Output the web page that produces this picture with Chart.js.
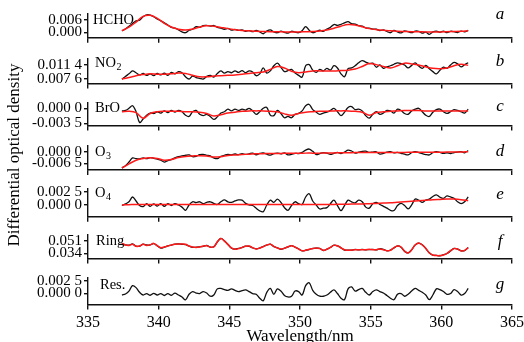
<!DOCTYPE html>
<html>
<head>
<meta charset="utf-8">
<script src="https://cdn.jsdelivr.net/npm/chart.js@4.4.1/dist/chart.umd.min.js"></script>
<style>
  html, body { margin: 0; padding: 0; background: #fff; }
  #wrap { position: relative; width: 524px; height: 342px; }
  #wrap canvas { position: absolute; left: 0; top: 0; }
</style>
</head>
<body>
<div id="wrap"></div>
<script>
// wavelength grids, nm
const measWl = [337.4,337.65,337.9,338.15,338.4,338.65,338.9,339.15,339.4,339.65,
  339.9,340.15,340.4,340.65,340.9,341.15,341.4,341.65,341.9,342.15,
  342.4,342.65,342.9,343.15,343.4,343.65,343.9,344.15,344.4,344.65,
  344.9,345.15,345.4,345.65,345.9,346.15,346.4,346.65,346.9,347.15,
  347.4,347.65,347.9,348.15,348.4,348.65,348.9,349.15,349.4,349.65,
  349.9,350.15,350.4,350.65,350.9,351.15,351.4,351.65,351.9,352.15,
  352.4,352.65,352.9,353.15,353.4,353.65,353.9,354.15,354.4,354.65,
  354.9,355.15,355.4,355.65,355.9,356.15,356.4,356.65,356.9,357.15,
  357.4,357.65,357.9,358.15,358.4,358.65,358.9,359.15,359.4,359.65,
  359.9,360.15,360.4,360.65,360.9,361.15,361.4,361.65,361.9];
const fitWl = [337.4,337.9,338.4,338.9,339.4,339.9,340.4,340.9,341.4,341.9,
  342.4,342.9,343.4,343.9,344.4,344.9,345.4,345.9,346.4,346.9,
  347.4,347.9,348.4,348.9,349.4,349.9,350.4,350.9,351.4,351.9,
  352.4,352.9,353.4,353.9,354.4,354.9,355.4,355.9,356.4,356.9,
  357.4,357.9,358.4,358.9,359.4,359.9,360.4,360.9,361.4,361.9];

// optical densities, in units of 1e-3 (measured = black, fitted = red)
const hchoMeas = [0.7,1.6,3.0,4.3,5.6,5.9,7.6,8.5,8.4,7.6,
  6.5,5.6,4.6,3.6,2.4,2.0,1.2,0.2,-0.2,1.0,
  1.5,2.8,2.4,3.3,3.4,3.0,3.3,2.4,2.0,1.5,
  1.9,1.1,1.4,0.9,1.2,0.5,0.8,0.3,0.9,0.2,
  -0.7,0.6,1.2,0.2,-0.2,0.6,0.0,-0.4,0.5,0.1,
  -0.2,0.8,2.8,1.0,-0.2,0.4,1.0,0.5,1.6,2.4,
  3.8,3.4,3.9,4.6,5.2,4.2,4.0,3.2,3.0,2.2,
  2.0,1.6,1.5,0.8,1.2,0.4,-0.2,0.9,0.2,-0.3,
  0.7,0.3,-0.2,0.6,0.5,-0.4,0.1,-1.0,0.2,0.6,
  0.0,0.6,-0.2,0.5,0.3,-0.1,0.6,0.2,0.9];
const hchoFit = [0.8,2.5,5.0,7.8,8.3,6.8,4.4,2.6,1.5,1.1,
  1.6,2.6,3.2,3.0,2.4,1.8,1.3,0.9,0.7,0.5,
  0.4,0.3,0.3,0.2,0.2,0.2,0.3,0.4,0.6,1.1,
  2.0,3.0,3.8,3.6,2.7,1.8,1.3,1.0,0.7,0.5,
  0.4,0.3,0.3,0.2,0.2,0.2,0.3,0.4,0.5,0.7];

const no2Meas = [7.5,8.3,9.0,9.8,9.3,8.7,9.1,8.6,9.0,8.5,
  9.1,8.7,9.2,8.6,9.4,9.0,9.6,9.3,8.2,7.6,
  8.4,8.0,7.8,7.6,8.3,8.6,8.1,9.1,9.8,9.2,
  9.6,9.3,9.8,9.4,9.9,9.3,9.8,9.5,8.5,9.0,
  10.6,9.2,9.8,11.2,11.9,10.8,9.6,9.9,10.2,9.2,
  8.6,8.1,11.2,11.5,10.0,9.4,10.2,9.8,10.5,10.0,
  11.2,10.6,9.0,8.2,10.4,10.6,11.2,12.0,12.6,12.2,
  11.8,11.9,10.8,11.4,10.5,10.9,11.2,11.6,12.0,11.8,
  11.4,10.6,11.3,12.0,11.1,10.5,11.3,10.4,9.6,9.0,
  10.0,10.8,10.5,11.4,12.1,11.7,10.9,11.5,12.0];
const no2Fit = [7.6,8.0,8.5,8.8,9.0,8.9,8.9,9.0,9.2,9.1,
  8.6,8.2,8.2,8.4,8.5,8.6,8.7,8.9,9.1,9.3,
  9.5,10.2,11.0,10.6,9.7,9.3,9.5,9.8,9.8,9.8,
  9.8,9.9,10.0,10.3,11.0,11.8,11.5,11.0,10.6,11.2,
  11.9,11.7,11.4,10.9,10.5,10.4,10.6,11.2,11.6,11.3];

const broMeas = [-0.6,-0.5,0.0,0.6,-0.8,-3.3,-2.5,-1.6,-1.1,-1.2,
  -0.8,-1.1,-0.6,-1.0,-0.5,-0.9,-0.5,-0.8,-1.6,-1.9,
  -0.8,-0.5,-1.4,-1.7,-1.4,-1.9,-2.6,-2.0,-1.1,-0.8,
  -0.2,-0.6,-0.2,-0.5,-0.2,-0.4,0.0,-0.6,-1.4,-0.8,
  0.0,0.2,-1.6,-1.7,-0.5,-1.2,-2.2,-1.9,-2.2,-1.4,
  -1.2,-0.6,0.6,0.9,-0.3,-0.9,-1.4,-1.1,-0.9,-0.5,
  0.0,-0.8,-1.7,-0.9,0.2,0.4,-0.3,-0.2,-0.6,-1.7,
  -2.3,-1.4,-0.8,-1.4,-1.1,-0.5,-0.6,-1.1,-0.2,-0.5,
  -1.2,-1.4,-0.6,-0.2,0.0,-0.8,-1.6,-1.9,-0.9,-0.3,
  -0.2,-0.8,-1.2,-0.8,-0.3,-0.5,-0.8,-1.1,-0.2];
const broFit = [-0.8,-0.7,-1.0,-2.3,-1.2,-0.8,-0.7,-0.7,-0.7,-0.8,
  -0.8,-0.9,-1.2,-1.8,-1.5,-1.1,-0.9,-0.7,-0.6,-0.6,
  -0.6,-0.7,-0.8,-1.3,-1.6,-1.2,-0.9,-0.8,-0.7,-0.7,
  -0.6,-0.6,-0.6,-0.7,-0.9,-1.6,-1.0,-0.8,-0.7,-0.6,
  -0.5,-0.5,-0.5,-0.6,-0.6,-0.6,-0.6,-0.6,-0.6,-0.6];

const o3Meas = [-9.1,-7.8,-5.8,-3.5,-3.9,-4.0,-3.5,-3.9,-3.3,-3.7,
  -4.1,-4.8,-5.8,-5.0,-4.4,-3.5,-2.8,-2.3,-2.0,-1.8,
  -2.8,-2.6,-1.7,-1.5,-2.0,-2.4,-3.5,-3.9,-2.6,-2.0,
  -1.5,-1.8,-1.3,-1.6,-1.1,-1.5,-1.2,-0.8,-1.7,-1.0,
  -0.7,-1.4,-1.9,-1.1,-0.8,-1.2,-0.7,-1.8,-1.5,-0.9,
  -1.1,-0.4,0.9,1.5,0.2,-1.6,-1.1,-0.5,-0.8,-1.5,
  -0.9,-0.4,-1.0,-0.2,0.9,0.4,-0.8,-0.3,0.2,0.3,
  -0.4,-0.2,-0.1,-1.3,-1.0,-0.2,0.0,-0.6,-0.4,-0.9,
  -1.4,-1.8,-0.6,0.0,-0.5,-1.1,-1.6,-1.8,-0.6,0.0,
  -0.4,-0.9,-0.6,-1.0,-0.5,-0.2,0.0,-0.6,0.7];
const o3Fit = [-9.2,-6.8,-4.8,-3.8,-3.4,-3.8,-4.8,-4.4,-3.3,-2.7,
  -2.4,-2.2,-2.4,-3.0,-2.8,-2.1,-1.8,-1.6,-1.4,-1.2,
  -1.1,-1.0,-1.0,-0.9,-0.9,-0.9,-0.8,-0.8,-0.8,-0.7,
  -0.7,-0.6,-0.6,-0.5,-0.5,-0.5,-0.4,-0.4,-0.4,-0.4,
  -0.4,-0.3,-0.3,-0.3,-0.3,-0.3,-0.2,-0.2,-0.2,0.0];

const o4Meas = [-0.1,0.2,0.6,1.5,0.75,-0.1,-0.3,0.25,-0.25,0.2,
  -0.2,0.25,-0.25,0.25,-0.1,0.25,0.0,-0.4,-1.0,0.0,
  0.6,0.45,0.6,0.25,0.5,0.6,0.3,0.1,0.6,0.95,
  0.6,0.5,0.75,0.95,0.9,0.3,0.0,-0.1,-0.6,-1.1,
  -1.25,0.0,0.9,0.5,1.1,0.5,-0.5,-1.0,-0.1,0.6,
  0.25,0.1,1.5,2.1,0.75,0.0,-0.75,-0.6,-0.5,0.25,
  0.9,-0.1,-1.05,-0.1,0.9,0.6,0.4,0.9,0.6,-0.4,
  -0.6,0.25,0.5,0.1,-0.25,-0.6,-1.0,-1.05,-0.1,0.3,
  -0.1,-0.75,0.0,1.1,0.9,0.5,0.9,1.1,1.6,1.9,
  1.45,1.25,1.7,1.5,1.25,0.6,0.25,0.6,1.5];
const o4Fit = [0.0,0.05,0.1,0.1,0.1,0.1,0.1,0.1,0.1,0.1,
  0.1,0.1,0.1,0.1,0.1,0.1,0.1,0.1,0.1,0.1,
  0.1,0.1,0.1,0.1,0.1,0.1,0.1,0.1,0.1,0.1,
  0.1,0.15,0.15,0.2,0.2,0.25,0.3,0.35,0.4,0.5,
  0.6,0.7,0.8,0.9,1.0,1.05,1.1,1.1,1.0,0.8];

// Ring fit is sampled on the fine grid
const ringMeas = [47.0,45.4,44.9,46.8,43.6,43.6,46.3,45.2,45.4,47.0,
  44.0,41.0,42.3,44.0,45.0,46.3,46.8,46.2,45.8,43.6,
  42.0,42.2,42.8,43.5,44.6,42.2,42.8,49.3,54.0,50.8,
  45.8,40.8,39.6,40.6,41.8,43.6,43.5,41.3,40.1,41.0,
  43.2,45.0,46.3,43.1,41.5,39.3,40.9,42.6,44.5,42.2,
  40.1,37.3,38.2,39.1,40.6,41.0,40.8,37.8,39.6,41.8,
  44.9,44.0,41.5,38.4,38.2,38.3,39.2,38.6,39.3,38.7,
  39.0,39.2,38.6,40.1,39.4,37.4,38.3,41.3,44.0,42.2,
  36.6,34.7,38.6,45.4,47.6,45.5,40.4,34.7,31.4,31.2,
  30.6,32.1,33.7,37.0,40.5,39.6,37.4,37.7,41.8];
const ringFit = [47.4,45.2,44.7,46.1,43.4,43.8,46.1,44.7,45.6,47.4,
  44.3,41.6,42.5,43.8,45.2,46.1,46.5,46.5,46.1,43.8,
  42.5,42.0,42.5,43.8,44.3,42.5,42.5,49.6,54.1,50.5,
  46.1,41.2,39.4,40.3,42.0,43.4,43.8,41.6,39.8,41.2,
  42.9,45.2,46.1,43.4,41.2,39.8,40.7,42.9,44.3,42.5,
  39.8,37.6,38.0,39.4,40.3,41.2,40.3,38.0,39.4,42.0,
  44.7,44.3,41.2,38.9,38.0,38.5,38.9,38.9,38.9,38.9,
  39.4,38.9,38.9,39.8,38.9,37.6,38.0,41.6,43.8,42.5,
  37.1,34.4,38.9,45.2,47.9,45.2,40.7,34.4,31.8,30.9,
  30.9,31.8,34.0,37.6,40.3,39.8,37.1,38.0,41.6];

const resMeas = [-0.35,-0.15,0.45,1.55,1.15,0.2,-0.35,-0.05,-0.4,0.0,
  -0.35,-0.05,-0.45,-0.05,-0.4,0.05,-0.35,-0.75,-1.35,-0.2,
  0.35,0.05,-0.05,0.35,0.05,-0.6,-0.35,0.9,1.0,0.75,
  0.6,0.9,0.6,0.35,0.55,0.7,0.35,-0.05,-0.2,-1.0,
  -1.5,0.2,1.0,-0.2,0.9,0.45,-0.45,-0.75,-0.6,0.45,
  0.35,-0.35,1.55,2.15,0.6,-0.2,-0.6,-0.6,-0.35,0.2,
  0.7,-0.05,-1.0,-1.3,0.9,1.3,0.45,0.75,1.0,0.2,
  -0.35,0.35,0.7,0.35,0.05,-0.45,-1.0,-1.3,-0.2,-0.05,
  -0.6,-0.2,0.45,1.0,0.6,0.2,-0.35,-1.3,-0.35,0.9,
  0.75,0.35,-0.2,-0.05,0.75,0.35,-0.35,-0.05,1.0];

// two y ticks per panel (1e-3 units) and their printed labels
const tickVals = [[0, 6], [7.6, 11.4], [-3.5, 0], [-6.5, 0], [0, 2.5], [34, 51], [0, 2.5]];
const tickLabels = [
  ['0.000', '0.006'], ['0.007 6', '0.011 4'], ['-0.003 5', '0.000 0'],
  ['-0.006 5', '0.000 0'], ['0.000 0', '0.002 5'], ['0.034', '0.051'], ['0.000 0', '0.002 5']
];
const species = ['HCHO', 'NO', 'BrO', 'O', 'O', 'Ring', 'Res.'];
const speciesSub = ['', '2', '', '3', '4', '', ''];
const letters = ['a', 'b', 'c', 'd', 'e', 'f', 'g'];

const W = 524, H = 342;
const SERIF = '"Liberation Serif", "Times New Roman", serif';
Chart.defaults.font.family = SERIF;
Chart.defaults.color = '#000';

// layout of each strip (pixels) and its y range
const panels = [
  { top: 14,  axis: 37.7,  min: -2.63,  max: 8.93,  nx: 93,  ny: 20,  ly: 15,  meas: hchoMeas, fit: hchoFit, fwl: fitWl },
  { top: 59,  axis: 83.5,  min: 6.38,   max: 13.03, nx: 95,  ny: 63,  ly: 62,  meas: no2Meas,  fit: no2Fit,  fwl: fitWl },
  { top: 103, axis: 125.5, min: -4.01,  max: 1.24,  nx: 95,  ny: 108, ly: 107, meas: broMeas,  fit: broFit,  fwl: fitWl },
  { top: 146, axis: 170,   min: -10.25, max: 3.19,  nx: 95,  ny: 152, ly: 152, meas: o3Meas,   fit: o3Fit,   fwl: fitWl },
  { top: 189, axis: 216.8, min: -2.22,  max: 3.0,   nx: 95,  ny: 193, ly: 195, meas: o4Meas,   fit: o4Fit,   fwl: fitWl },
  { top: 235, axis: 258.5, min: 27.0,   max: 58.7,  nx: 96,  ny: 241, ly: 242, meas: ringMeas, fit: ringFit, fwl: measWl },
  { top: 278, axis: 304.5, min: -2.28,  max: 3.11,  nx: 100, ny: 285, ly: 285, meas: resMeas,  fit: null,    fwl: null }
];

function pts(wl, vals) {
  return wl.map((w, i) => ({ x: w, y: vals[i] }));
}

const wrap = document.getElementById('wrap');

panels.forEach((p, i) => {
  const canvas = document.createElement('canvas');
  canvas.width = W;
  canvas.height = H;
  wrap.appendChild(canvas);
  const last = i === panels.length - 1;
  const xH = last ? H - p.axis : 6;

  const datasets = [];
  if (p.fit) {
    datasets.push({ data: pts(p.fwl, p.fit), borderColor: '#ff1a1a', borderWidth: 1.5, order: 0, clip: false });
  }
  datasets.push({ data: pts(measWl, p.meas), borderColor: '#111', borderWidth: 1.3, order: 1, clip: false });

  new Chart(canvas, {
    type: 'line',
    data: { datasets },
    options: {
      responsive: false,
      animation: false,
      events: [],
      layout: { padding: { top: p.top, bottom: H - p.axis - xH, left: 0, right: 12 } },
      elements: { point: { radius: 0 }, line: { tension: 0.35 } },
      plugins: { legend: { display: false }, tooltip: { enabled: false } },
      scales: {
        x: {
          type: 'linear', min: 335, max: 365,
          afterFit(s) { s.height = xH; s.paddingLeft = 0; s.paddingRight = 0; },
          border: { color: '#111', width: 1.4 },
          grid: { drawOnChartArea: false, drawTicks: true, tickLength: 5, color: '#111', lineWidth: 1.4 },
          ticks: { display: last, stepSize: 5, font: { size: 16 }, padding: 4, maxRotation: 0 },
          title: { display: last, text: 'Wavelength/nm', font: { size: 17, lineHeight: 0.8 }, padding: { top: 0, bottom: -1 } }
        },
        y: {
          min: p.min, max: p.max,
          afterFit(s) { s.width = 88; s.paddingTop = 0; s.paddingBottom = 0; },
          afterBuildTicks(s) { s.ticks = tickVals[i].map(v => ({ value: v })); },
          border: { color: '#111', width: 1.4 },
          grid: { drawOnChartArea: false, tickLength: 4, color: '#111', lineWidth: 1.4 },
          ticks: { autoSkip: false, font: { size: 15 }, padding: 2, callback: (v, idx) => tickLabels[i][idx] }
        }
      }
    },
    plugins: [{
      id: 'panelText',
      afterDraw(c) {
        const ctx = c.ctx;
        ctx.save();
        ctx.fillStyle = '#000';
        ctx.textBaseline = 'middle';
        ctx.textAlign = 'left';
        ctx.font = '14.5px ' + SERIF;
        ctx.fillText(species[i], p.nx, p.ny);
        if (speciesSub[i]) {
          const w = ctx.measureText(species[i]).width;
          ctx.font = '10px ' + SERIF;
          ctx.fillText(speciesSub[i], p.nx + w + 0.5, p.ny + 4);
        }
        ctx.font = 'italic 17px ' + SERIF;
        ctx.textAlign = 'center';
        ctx.fillText(letters[i], 500, p.ly);
        if (i === 0) {
          ctx.translate(15, 155);
          ctx.rotate(-Math.PI / 2);
          ctx.font = '17px ' + SERIF;
          ctx.fillText('Differential optical density', 0, 0);
        }
        ctx.restore();
      }
    }]
  });
});
</script>
</body>
</html>
